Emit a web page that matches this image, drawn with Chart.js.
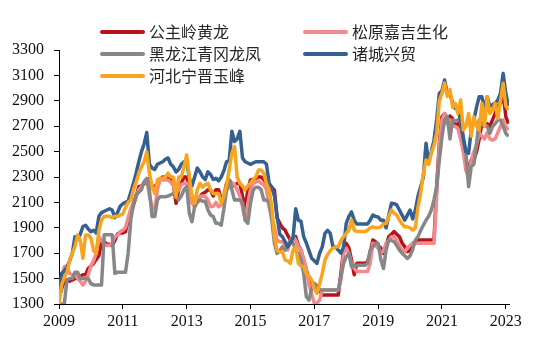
<!DOCTYPE html>
<html><head><meta charset="utf-8">
<script src="https://cdn.jsdelivr.net/npm/chart.js@4"></script>
<style>
html,body{margin:0;padding:0;background:#fff;}
#wrap{position:relative;width:550px;height:357px;overflow:hidden;}
canvas{position:absolute;left:0;top:0;}
.lg{position:absolute;font-family:"Noto Sans CJK SC","Noto Sans",sans-serif;font-size:16px;line-height:20px;height:20px;color:#262626;white-space:nowrap;}
.sw{position:absolute;height:4px;width:45px;border-radius:2px;}
</style></head>
<body><div id="wrap"><canvas id="c" width="550" height="357"></canvas><div id="legend"></div></div>
<script>
// Monthly observations, Jan 2009 .. Feb 2023
const startYear = 2009;
const xTicks = [2009, 2011, 2013, 2015, 2017, 2019, 2021, 2023];
const yTicks = [1300, 1500, 1700, 1900, 2100, 2300, 2500, 2700, 2900, 3100, 3300];
const seriesNames = ["公主岭黄龙", "松原嘉吉生化", "黑龙江青冈龙凤", "诸城兴贸", "河北宁晋玉峰"];
const seriesColors = ["#B8121B", "#F28A8C", "#878787", "#35608F", "#F9A41E"];

const red = [
1350,1420,1480,1490,1480,1490,1500,1510,1520,1530,1530,1580,
1600,1620,1650,1680,1780,1790,1770,1770,1760,1800,1850,1860,
1860,1870,1961,2000,2080,2145,2224,2230,2250,2250,2290,2224,
2224,2250,2280,2300,2300,2290,2280,2250,2093,2200,2250,2300,
2300,2200,2145,2066,2120,2145,2170,2180,2200,2198,2150,2200,
2200,2120,2150,2250,2276,2250,2230,2250,2250,2150,2050,2200,
2276,2280,2290,2300,2300,2280,2250,2230,2220,2197,1980,1935,
1900,1882,1840,1803,1820,1830,1760,1724,1646,1567,1500,1436,
1460,1440,1410,1371,1371,1371,1371,1371,1371,1371,1540,1725,
1778,1740,1646,1530,1620,1620,1620,1620,1630,1700,1804,1790,
1760,1740,1698,1760,1830,1850,1870,1850,1830,1780,1751,1712,
1720,1778,1790,1804,1804,1804,1804,1804,1804,1804,2224,2565,
2775,2800,2750,2780,2760,2700,2720,2700,2560,2400,2380,2434,
2434,2500,2600,2722,2700,2720,2700,2750,2800,2855,2880,2958,
2775,2720];

const pink = [
1350,1500,1594,1600,1540,1530,1530,1500,1480,1450,1480,1530,
1600,1640,1700,1830,1800,1770,1760,1760,1780,1830,1840,1870,
1880,1900,1980,2050,2100,2150,2200,2224,2260,2276,2150,2066,
2040,2200,2276,2276,2276,2276,2260,2230,2171,2200,2240,2250,
2250,2150,2093,2066,2120,2145,2150,2145,2120,2066,2070,2100,
2066,2080,2150,2198,2220,2250,2240,2200,2150,2066,1961,2090,
2200,2250,2260,2270,2250,2240,2200,2066,1980,1908,1803,1790,
1790,1760,1724,1800,1830,1803,1750,1724,1650,1570,1450,1380,
1305,1305,1330,1410,1410,1410,1410,1410,1410,1410,1489,1700,
1740,1700,1620,1580,1555,1555,1555,1555,1555,1620,1778,1760,
1740,1700,1720,1780,1800,1830,1830,1800,1760,1720,1712,1740,
1760,1778,1778,1778,1778,1778,1778,1778,1778,1778,2150,2550,
2750,2800,2720,2750,2700,2700,2680,2600,2500,2350,2300,2434,
2500,2550,2650,2620,2600,2650,2600,2591,2600,2650,2700,2750,
2700,2670];

const grey = [
1300,1300,1300,1490,1500,1500,1550,1550,1500,1500,1500,1500,
1460,1450,1450,1450,1450,1845,1845,1845,1845,1542,1550,1550,
1550,1550,1700,1961,2090,2160,2180,2200,2263,2290,2198,1988,
1988,2120,2145,2145,2145,2150,2160,2170,2140,2120,2150,2200,
2224,2014,1948,2066,2100,2120,2110,2110,2040,2000,1988,1935,
1935,1920,2050,2198,2276,2200,2118,2120,2118,2100,1961,1935,
2092,2197,2220,2220,2200,2118,2118,2100,1961,1777,1698,1720,
1750,1724,1760,1803,1780,1720,1698,1646,1540,1357,1331,1423,
1462,1410,1410,1410,1410,1410,1410,1410,1410,1410,1514,1620,
1672,1700,1593,1605,1605,1605,1605,1605,1620,1725,1750,1778,
1778,1650,1580,1725,1804,1800,1790,1760,1725,1700,1680,1659,
1680,1730,1804,1830,1880,1920,1960,1990,2040,2120,2224,2434,
2617,2749,2775,2600,2749,2740,2749,2740,2591,2486,2224,2381,
2400,2565,2749,2722,2700,2700,2644,2696,2720,2749,2749,2700,
2644,2620];

const blue = [
1380,1540,1560,1590,1640,1700,1830,1810,1850,1910,1920,1890,
1870,1880,1860,1990,2020,2030,2040,2050,2040,1980,2020,2070,
2090,2100,2110,2180,2250,2330,2420,2500,2560,2650,2400,2370,
2360,2400,2410,2420,2440,2450,2400,2380,2340,2360,2400,2420,
2420,2290,2230,2300,2370,2340,2300,2280,2340,2320,2280,2290,
2270,2300,2350,2420,2430,2660,2580,2600,2660,2450,2420,2410,
2400,2410,2420,2420,2420,2420,2400,2250,2220,2150,1990,1850,
1830,1790,1750,1780,1820,2050,1960,1950,1830,1780,1720,1660,
1640,1620,1700,1750,1856,1880,1856,1750,1750,1725,1700,1750,
1935,1990,2025,1960,1930,1930,1930,1930,1930,1960,2000,1990,
1985,1960,1960,1900,2000,2093,2090,2080,2040,2000,1961,2000,
2040,1970,2040,2150,2224,2300,2565,2420,2500,2591,2749,2958,
2980,3064,2958,2958,2880,2840,2828,2750,2617,2500,2486,2670,
2749,2850,2932,2932,2828,2932,2855,2870,2880,2906,2960,3116,
2958,2860];

const orange = [
1300,1450,1510,1550,1646,1700,1751,1843,1800,1660,1843,1843,
1820,1720,1700,1880,1961,1990,1990,1990,1980,1990,1990,2000,
2010,2060,2100,2119,2200,2260,2330,2380,2420,2497,2330,2224,
2171,2276,2290,2290,2300,2330,2300,2300,2145,2300,2300,2380,
2473,2300,2143,2093,2200,2250,2220,2240,2250,2200,2170,2170,
2171,2093,2150,2240,2355,2486,2540,2300,2250,2230,2200,2230,
2250,2280,2300,2355,2355,2330,2250,2200,2066,1830,1724,1710,
1710,1646,1640,1620,1724,1750,1620,1600,1593,1540,1520,1488,
1420,1383,1460,1540,1646,1690,1720,1740,1750,1750,1800,1830,
1856,1882,1961,1882,1870,1870,1870,1870,1880,1900,1908,1900,
1900,1908,1930,1935,1990,2040,2014,2000,1961,1930,1908,1908,
1900,1882,1900,2066,2171,2329,2434,2400,2486,2550,2644,2900,
2958,3040,2935,2988,2850,2880,2800,2906,2670,2700,2800,2620,
2775,2700,2670,2880,2700,2932,2800,2828,2880,2760,2900,3038,
2860,2830];

const allSeries = [red, pink, grey, blue, orange];
const months = red.map((_, i) => startYear + i / 12);

// HTML legend (two columns)
const legendCols = [100, 303];
const legendRows = [32, 54, 76];
const lg = document.getElementById('legend');
seriesNames.forEach((name, i) => {
  const cx = legendCols[i % 2], cy = legendRows[Math.floor(i / 2)];
  const sw = document.createElement('div');
  sw.className = 'sw'; sw.style.left = cx + 'px'; sw.style.top = (cy - 2) + 'px';
  sw.style.background = seriesColors[i];
  const tx = document.createElement('div');
  tx.className = 'lg'; tx.style.left = (cx + 49) + 'px'; tx.style.top = (cy - 11) + 'px';
  tx.textContent = name;
  lg.appendChild(sw); lg.appendChild(tx);
});

const axisFont = {family: "'Liberation Serif', 'Times New Roman', serif", size: 16};
new Chart(document.getElementById('c').getContext('2d'), {
  type: 'line',
  data: {
    datasets: allSeries.map((vals, i) => ({
      label: seriesNames[i],
      data: vals.map((v, j) => ({x: months[j], y: v})),
      borderColor: seriesColors[i],
      borderWidth: 3.5,
      pointRadius: 0,
      fill: false,
      tension: 0,
      borderJoinStyle: 'round',
      order: allSeries.length - i
    }))
  },
  options: {
    responsive: false,
    animation: false,
    layout: {padding: {top: 50, right: 41, left: 0, bottom: 0}},
    plugins: {legend: {display: false}, tooltip: {enabled: false}},
    scales: {
      x: {
        type: 'linear', min: 2009, max: 2023.1,
        afterBuildTicks: s => { s.ticks = xTicks.map(v => ({value: v})); },
        afterFit: s => { s.height = 53; },
        grid: {drawOnChartArea: false, drawTicks: true, tickLength: 5, color: '#000'},
        border: {color: '#000', width: 1},
        ticks: {font: axisFont, color: '#111', padding: 3, maxRotation: 0, autoSkip: false, callback: v => String(v)}
      },
      y: {
        min: 1300, max: 3300,
        afterBuildTicks: s => { s.ticks = yTicks.map(v => ({value: v})); },
        afterFit: s => { s.width = 59; },
        grid: {drawOnChartArea: false, drawTicks: true, tickLength: 5, color: '#000'},
        border: {color: '#000', width: 1},
        ticks: {font: axisFont, color: '#111', padding: 10, autoSkip: false, callback: v => String(v)}
      }
    }
  }
});
</script>
</body></html>
